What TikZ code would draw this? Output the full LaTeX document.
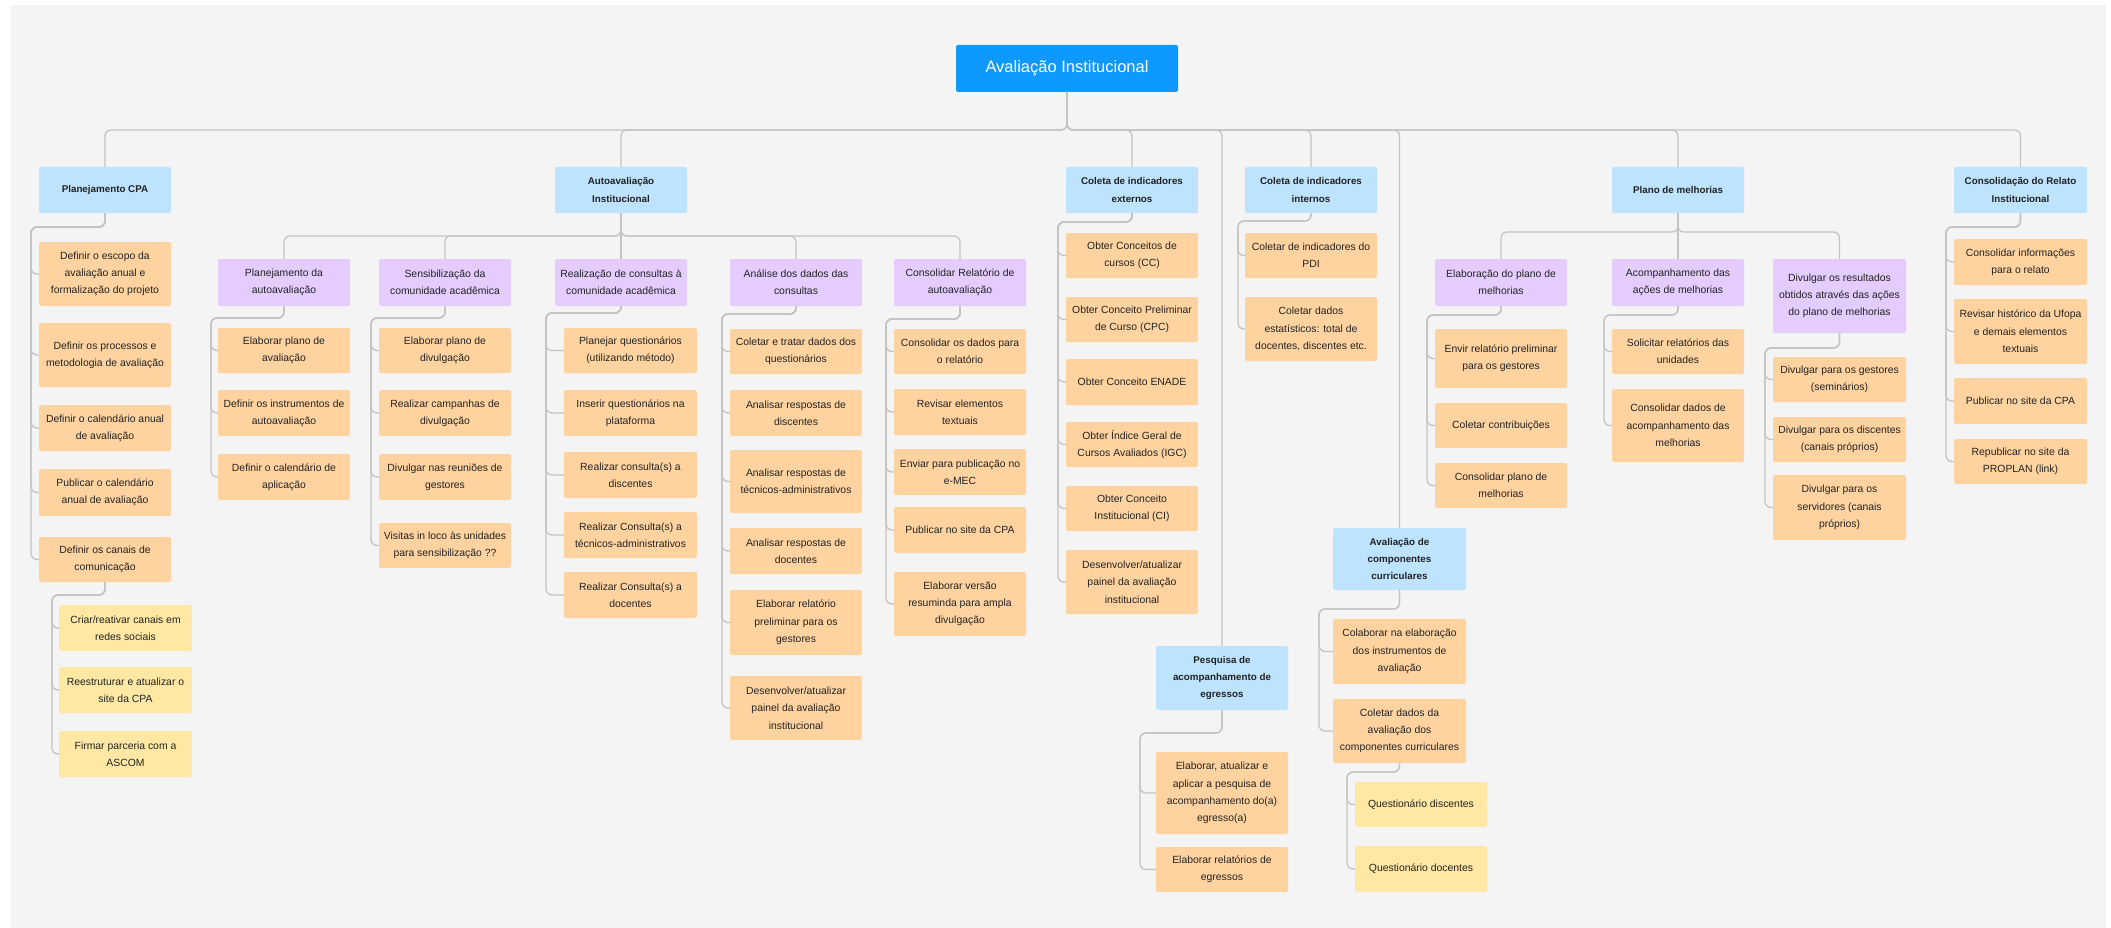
\documentclass[tikz,border=0pt]{standalone}
\usepackage{fontspec}
\setmainfont{Liberation Sans}
\definecolor{bgc}{HTML}{F4F4F4}
\definecolor{rootc}{HTML}{0D99FF}
\definecolor{bluec}{HTML}{BDE3FF}
\definecolor{purc}{HTML}{E4CCFF}
\definecolor{orac}{HTML}{FFD3A0}
\definecolor{yelc}{HTML}{FFE8A3}
\definecolor{linec}{HTML}{C4C4C4}
\definecolor{txtc}{HTML}{222222}
\tikzset{
  nbox/.style={rounded corners=2pt, inner sep=1pt, outer sep=0pt, align=center, text=txtc, font=\fontsize{10.4}{17.3}\selectfont},
  rootbox/.style={nbox, fill=rootc, text=white, font=\fontsize{16.5}{20}\selectfont},
  lonebox/.style={nbox, fill=bluec, font=\fontsize{9.8}{17.3}\selectfont\bfseries},
  purbox/.style={nbox, fill=purc},
  orabox/.style={nbox, fill=orac},
  yelbox/.style={nbox, fill=yelc},
  conn/.style={draw=linec, line width=1.3pt, rounded corners=6pt}
}
\newcommand\bx[7]{\node[#2, minimum width={#5-#3}, minimum height={#6-#4}] (#1) at ({(#3+#5)/2},{(#4+#6)/2}) {#7};}
\newcommand\lst[4]{\draw[conn] (#1.south) |- (#3,#2) |- (#4.west);}
\newcommand\bus[3]{\draw[conn] (#1.south) |- (#3.north |- #2) -- (#3.north);}
\begin{document}
\begin{tikzpicture}[x=1pt,y=-1pt]
\useasboundingbox (0,0) rectangle (2111,928);
\fill[white] (0,0) rectangle (2111,928);
\fill[bgc] (11,5) rectangle (2106,928);

% root and level 1
\bx{root}{rootbox}{956}{45}{1178}{92}{Avaliação Institucional}
\bx{pcpa}{lonebox}{39}{167}{171}{213}{Planejamento CPA}
\bx{auto}{lonebox}{555}{167}{687}{213}{Autoavaliação\\Institucional}
\bx{cext}{lonebox}{1066}{167}{1198}{213}{Coleta de indicadores\\externos}
\bx{cint}{lonebox}{1245}{167}{1377}{213}{Coleta de indicadores\\internos}
\bx{pesq}{lonebox}{1156}{646}{1288}{710}{Pesquisa de\\acompanhamento de\\egressos}
\bx{acc}{lonebox}{1333}{528}{1466}{590}{Avaliação de\\componentes\\curriculares}
\bx{plano}{lonebox}{1612}{167}{1744}{213}{Plano de melhorias}
\bx{cons}{lonebox}{1954}{167}{2087}{213}{Consolidação do Relato\\Institucional}

% Planejamento CPA
\bx{p1}{orabox}{39}{242}{171}{306}{Definir o escopo da\\avaliação anual e\\formalização do projeto}
\bx{p2}{orabox}{39}{323}{171}{387}{Definir os processos e\\metodologia de avaliação}
\bx{p3}{orabox}{39}{405}{171}{451}{Definir o calendário anual\\de avaliação}
\bx{p4}{orabox}{39}{469}{171}{516}{Publicar o calendário\\anual de avaliação}
\bx{p5}{orabox}{39}{537}{171}{582}{Definir os canais de\\comunicação}
\bx{q1}{yelbox}{59}{605}{192}{651}{Criar/reativar canais em\\redes sociais}
\bx{q2}{yelbox}{59}{667}{192}{713}{Reestruturar e atualizar o\\site da CPA}
\bx{q3}{yelbox}{59}{731}{192}{777}{Firmar parceria com a\\ASCOM}

% Autoavaliação
\bx{a1}{purbox}{218}{259}{350}{306}{Planejamento da\\autoavaliação}
\bx{a2}{purbox}{379}{259}{511}{306}{Sensibilização da\\comunidade acadêmica}
\bx{a3}{purbox}{555}{259}{687}{306}{Realização de consultas à\\comunidade acadêmica}
\bx{a4}{purbox}{730}{259}{862}{306}{Análise dos dados das\\consultas}
\bx{a5}{purbox}{894}{259}{1026}{306}{Consolidar Relatório de\\autoavaliação}

\bx{ba1}{orabox}{218}{328}{350}{373}{Elaborar plano de\\avaliação}
\bx{ba2}{orabox}{218}{390}{350}{436}{Definir os instrumentos de\\autoavaliação}
\bx{ba3}{orabox}{218}{454}{350}{500}{Definir o calendário de\\aplicação}

\bx{bb1}{orabox}{379}{328}{511}{373}{Elaborar plano de\\divulgação}
\bx{bb2}{orabox}{379}{390}{511}{436}{Realizar campanhas de\\divulgação}
\bx{bb3}{orabox}{379}{454}{511}{500}{Divulgar nas reuniões de\\gestores}
\bx{bb4}{orabox}{379}{523}{511}{568}{Visitas in loco às unidades\\para sensibilização ??}

\bx{bc1}{orabox}{564}{328}{697}{373}{Planejar questionários\\(utilizando método)}
\bx{bc2}{orabox}{564}{390}{697}{436}{Inserir questionários na\\plataforma}
\bx{bc3}{orabox}{564}{452}{697}{498}{Realizar consulta(s) a\\discentes}
\bx{bc4}{orabox}{564}{512}{697}{558}{Realizar Consulta(s) a\\técnicos-administrativos}
\bx{bc5}{orabox}{564}{572}{697}{618}{Realizar Consulta(s) a\\docentes}

\bx{bd1}{orabox}{730}{329}{862}{374}{Coletar e tratar dados dos\\questionários}
\bx{bd2}{orabox}{730}{390}{862}{436}{Analisar respostas de\\discentes}
\bx{bd3}{orabox}{730}{450}{862}{513}{Analisar respostas de\\técnicos-administrativos}
\bx{bd4}{orabox}{730}{528}{862}{574}{Analisar respostas de\\docentes}
\bx{bd5}{orabox}{730}{590}{862}{655}{Elaborar relatório\\preliminar para os\\gestores}
\bx{bd6}{orabox}{730}{676}{862}{740}{Desenvolver/atualizar\\painel da avaliação\\institucional}

\bx{be1}{orabox}{894}{329}{1026}{374}{Consolidar os dados para\\o relatório}
\bx{be2}{orabox}{894}{389}{1026}{435}{Revisar elementos\\textuais}
\bx{be3}{orabox}{894}{449}{1026}{495}{Enviar para publicação no\\e-MEC}
\bx{be4}{orabox}{894}{507}{1026}{553}{Publicar no site da CPA}
\bx{be5}{orabox}{894}{572}{1026}{636}{Elaborar versão\\resuminda para ampla\\divulgação}

% Coleta externos
\bx{ce1}{orabox}{1066}{233}{1198}{278}{Obter Conceitos de\\cursos (CC)}
\bx{ce2}{orabox}{1066}{297}{1198}{342}{Obter Conceito Preliminar\\de Curso (CPC)}
\bx{ce3}{orabox}{1066}{359}{1198}{405}{Obter Conceito ENADE}
\bx{ce4}{orabox}{1066}{422}{1198}{467}{Obter Índice Geral de\\Cursos Avaliados (IGC)}
\bx{ce5}{orabox}{1066}{486}{1198}{531}{Obter Conceito\\Institucional (CI)}
\bx{ce6}{orabox}{1066}{550}{1198}{614}{Desenvolver/atualizar\\painel da avaliação\\institucional}

% Coleta internos
\bx{ci1}{orabox}{1245}{233}{1377}{278}{Coletar de indicadores do\\PDI}
\bx{ci2}{orabox}{1245}{297}{1377}{361}{Coletar dados\\estatísticos: total de\\docentes, discentes etc.}

% Avaliação de componentes curriculares
\bx{ac1}{orabox}{1333}{619}{1466}{684}{Colaborar na elaboração\\dos instrumentos de\\avaliação}
\bx{ac2}{orabox}{1333}{699}{1466}{763}{Coletar dados da\\avaliação dos\\componentes curriculares}
\bx{aq1}{yelbox}{1355}{782}{1487}{827}{Questionário discentes}
\bx{aq2}{yelbox}{1355}{846}{1487}{892}{Questionário docentes}

% Pesquisa de egressos
\bx{pe1}{orabox}{1156}{752}{1288}{834}{Elaborar, atualizar e\\aplicar a pesquisa de\\acompanhamento do(a)\\egresso(a)}
\bx{pe2}{orabox}{1156}{847}{1288}{892}{Elaborar relatórios de\\egressos}

% Plano de melhorias
\bx{m1}{purbox}{1435}{259}{1567}{306}{Elaboração do plano de\\melhorias}
\bx{m2}{purbox}{1612}{259}{1744}{306}{Acompanhamento das\\ações de melhorias}
\bx{m3}{purbox}{1773}{259}{1906}{333}{Divulgar os resultados\\obtidos através das ações\\do plano de melhorias}

\bx{ma1}{orabox}{1435}{329}{1567}{388}{Envir relatório preliminar\\para os gestores}
\bx{ma2}{orabox}{1435}{403}{1567}{448}{Coletar contribuições}
\bx{ma3}{orabox}{1435}{463}{1567}{508}{Consolidar plano de\\melhorias}

\bx{mb1}{orabox}{1612}{329}{1744}{374}{Solicitar relatórios das\\unidades}
\bx{mb2}{orabox}{1612}{389}{1744}{462}{Consolidar dados de\\acompanhamento das\\melhorias}

\bx{mc1}{orabox}{1773}{357}{1906}{402}{Divulgar para os gestores\\(seminários)}
\bx{mc2}{orabox}{1773}{417}{1906}{462}{Divulgar para os discentes\\(canais próprios)}
\bx{mc3}{orabox}{1773}{475}{1906}{540}{Divulgar para os\\servidores (canais\\próprios)}

% Consolidação do Relato
\bx{cr1}{orabox}{1954}{239}{2087}{285}{Consolidar informações\\para o relato}
\bx{cr2}{orabox}{1954}{299}{2087}{364}{Revisar histórico da Ufopa\\e demais elementos\\textuais}
\bx{cr3}{orabox}{1954}{378}{2087}{424}{Publicar no site da CPA}
\bx{cr4}{orabox}{1954}{439}{2087}{484}{Republicar no site da\\PROPLAN (link)}

% connectors
\coordinate (t0) at (0,130);
\coordinate (t1) at (0,236);
\coordinate (t2) at (0,232);
\foreach \c in {pcpa,auto,cext,pesq,cint,acc,plano,cons} {\bus{root}{t0}{\c}}
\foreach \c in {a1,a2,a4,a5} {\bus{auto}{t1}{\c}}
\draw[conn] (auto.south) -- (a3.north);
\foreach \c in {m1,m3} {\bus{plano}{t2}{\c}}
\draw[conn] (plano.south) -- (m2.north);

\foreach \c in {p1,p2,p3,p4,p5} {\lst{pcpa}{227}{31}{\c}}
\foreach \c in {q1,q2,q3} {\lst{p5}{595}{52}{\c}}
\foreach \c in {ba1,ba2,ba3} {\lst{a1}{318}{211}{\c}}
\foreach \c in {bb1,bb2,bb3,bb4} {\lst{a2}{318}{371}{\c}}
\foreach \c in {bc1,bc2,bc3,bc4,bc5} {\lst{a3}{313}{546}{\c}}
\foreach \c in {bd1,bd2,bd3,bd4,bd5,bd6} {\lst{a4}{314}{722}{\c}}
\foreach \c in {be1,be2,be3,be4,be5} {\lst{a5}{319}{886}{\c}}
\foreach \c in {ce1,ce2,ce3,ce4,ce5,ce6} {\lst{cext}{222}{1058}{\c}}
\foreach \c in {ci1,ci2} {\lst{cint}{221}{1238}{\c}}
\foreach \c in {ac1,ac2} {\lst{acc}{609}{1319}{\c}}
\foreach \c in {aq1,aq2} {\lst{ac2}{772}{1347}{\c}}
\foreach \c in {pe1,pe2} {\lst{pesq}{733}{1140}{\c}}
\foreach \c in {ma1,ma2,ma3} {\lst{m1}{315}{1427}{\c}}
\foreach \c in {mb1,mb2} {\lst{m2}{315}{1604}{\c}}
\foreach \c in {mc1,mc2,mc3} {\lst{m3}{348}{1765}{\c}}
\foreach \c in {cr1,cr2,cr3,cr4} {\lst{cons}{227}{1946}{\c}}
\end{tikzpicture}
\end{document}
